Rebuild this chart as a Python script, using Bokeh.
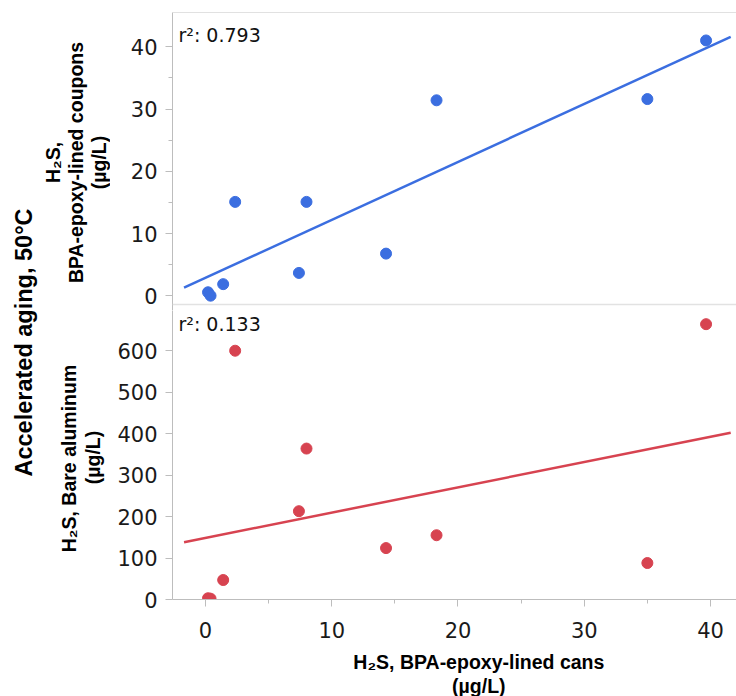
import numpy as np
from bokeh.plotting import figure
from bokeh.layouts import row, column
from bokeh.models import Range1d, FixedTicker, Span
from bokeh.core.properties import value
from bokeh.embed import file_html
from bokeh.resources import INLINE

# ---------------- data ----------------
cans = [0.2, 0.4, 1.4, 2.35, 7.4, 8.0, 14.3, 18.3, 35.0, 39.65]          # H2S, BPA-epoxy-lined cans
coupons = [0.6, 0.05, 1.9, 15.1, 3.7, 15.1, 6.8, 31.4, 31.6, 41.0]        # H2S, BPA-epoxy-lined coupons
bare_al = [3, 2, 47, 600, 213, 364, 124, 155, 88, 664]                    # H2S, Bare aluminum
r2_labels = ["0.793", "0.133"]
x_ticks = [0, 10, 20, 30, 40]
x_minor = [5, 15, 25, 35]
coupon_ticks = [0, 10, 20, 30, 40]
coupon_minor = [5, 15, 25, 35]
bare_ticks = [0, 100, 200, 300, 400, 500, 600]
fit_domain = [-1.7, 41.6]

# ---------------- style ----------------
FONT = "Liberation Sans"
TICK_FONT = "DejaVu Sans"
AXIS = "#bdbdbd"
BLUE = "#3b6ee0"
RED = "#d74350"
X_RANGE = (-2.614, 42.06)
LEFT_W = 110
PANEL_W = 626
LEFT_B = 62
TOP_YR = (-2.327, 45.487)
SEP_Y = -1.364
BOT_YR = (0, 697)


def style_axis(ax, ticks, minor):
    ax.ticker = FixedTicker(ticks=ticks, minor_ticks=minor)
    ax.axis_line_color = AXIS
    ax.major_tick_line_color = AXIS
    ax.minor_tick_line_color = AXIS if minor else None
    ax.major_tick_in = 0
    ax.major_tick_out = 7
    ax.minor_tick_in = 0
    ax.minor_tick_out = 4
    ax.major_label_text_font = TICK_FONT
    ax.major_label_text_font_size = "21px"
    ax.major_label_text_color = "#1a1a1a"


def panel(yvals, yr, yticks, yminor, color, r2, r2_dy, height, top_b, bottom_b, show_x):
    p = figure(width=PANEL_W, height=height, x_range=Range1d(*X_RANGE), y_range=Range1d(*yr),
               output_backend="svg", toolbar_location=None, title=None,
               x_axis_location="below" if show_x else None,
               min_border_left=LEFT_B, min_border_right=0,
               min_border_top=top_b, min_border_bottom=bottom_b)
    p.grid.visible = False
    p.outline_line_color = None
    style_axis(p.yaxis[0], yticks, yminor)
    p.yaxis[0].major_label_standoff = 8
    if show_x:
        style_axis(p.xaxis[0], x_ticks, x_minor)
        p.xaxis[0].major_label_standoff = 15
    # least-squares fit line from the data
    slope, inter = np.polyfit(np.array(cans), np.array(yvals, dtype=float), 1)
    fx = np.array(fit_domain)
    p.line(fx, slope * fx + inter, line_color=color, line_width=2.5)
    p.scatter(cans, yvals, size=11, fill_color=color, line_color=color)
    # r^2 annotation near the upper-left corner
    xpx = (X_RANGE[1] - X_RANGE[0]) / (PANEL_W - LEFT_B)
    ypx = (yr[1] - yr[0]) / (height - top_b - bottom_b)
    p.text(x=[X_RANGE[0] + 6 * xpx], y=[yr[1] - r2_dy * ypx], text=[f"r\u00b2: {r2}"],
           text_align="left", text_baseline="middle", text_font=value(TICK_FONT),
           text_font_size="19px", text_color="#111111")
    return p


top = panel(coupons, TOP_YR, coupon_ticks, coupon_minor, BLUE, r2_labels[0], 22.7,
            310, 12, 0, False)
top.add_layout(Span(location=TOP_YR[1], dimension="width", line_color="#c4c4c4", line_width=1.2))
top.add_layout(Span(location=SEP_Y, dimension="width", line_color="#e2e2e2", line_width=1.5))

bottom = panel(bare_al, BOT_YR, bare_ticks, [], RED, r2_labels[1], 13.5,
               334, 0, 45, True)


def canvas(w, h, x0, y0):
    c = figure(width=w, height=h, x_range=Range1d(x0, x0 + w), y_range=Range1d(y0 + h, y0),
               output_backend="svg", toolbar_location=None, title=None,
               x_axis_location=None, y_axis_location=None, min_border=0)
    c.grid.visible = False
    c.outline_line_color = None
    return c


# left band with rotated labels (coordinates = page pixels)
left = canvas(LEFT_W, 696, 0, 0)
left.text(x=[23], y=[342], text=["Accelerated aging, 50\u00b0C"], angle=np.pi / 2,
          text_align="center", text_baseline="middle", text_font=value(FONT),
          text_font_style="bold", text_font_size="23.5px", text_color="#000000")
left.text(x=[52, 75, 98, 68, 92], y=[162, 162, 162, 458, 457],
          text=["H\u2082S,", "BPA-epoxy-lined coupons", "(\u00b5g/L)",
                "H\u2082S, Bare aluminum", "(\u00b5g/L)"],
          angle=np.pi / 2, text_align="center", text_baseline="middle",
          text_font=value(FONT), text_font_style="bold", text_font_size="19.5px",
          text_color="#000000")

# bottom band with x-axis title
xlab = canvas(PANEL_W, 52, LEFT_W, 644)
xlab.text(x=[450, 450], y=[661, 685], text=["H\u2082S, BPA-epoxy-lined cans", "(\u00b5g/L)"],
          text_align="center", text_baseline="middle", text_font=value(FONT),
          text_font_style="bold", text_font_size="19.5px", text_color="#000000")

layout = row(left, column(top, bottom, xlab))

open("out.html", "w").write(file_html(layout, INLINE))
